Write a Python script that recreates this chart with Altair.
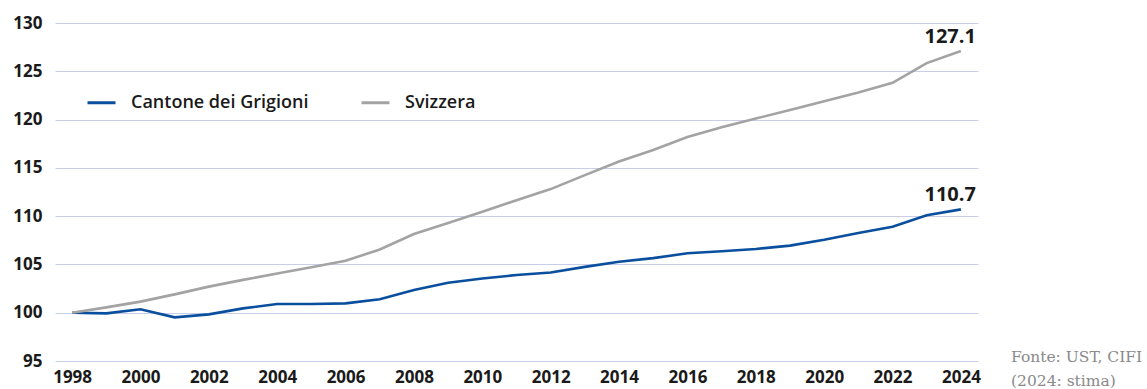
import altair as alt
import pandas as pd

years = list(range(1998, 2025))
grigioni = [100.0, 99.93, 100.35, 99.52, 99.83, 100.45, 100.9, 100.9, 100.97, 101.4,
            102.35, 103.1, 103.55, 103.9, 104.17, 104.75, 105.27, 105.65, 106.15, 106.37,
            106.6, 106.95, 107.55, 108.25, 108.9, 110.1, 110.7]
svizzera = [100.0, 100.55, 101.15, 101.9, 102.7, 103.4, 104.06, 104.7, 105.37, 106.55,
            108.15, 109.3, 110.45, 111.65, 112.8, 114.25, 115.65, 116.85, 118.2, 119.2,
            120.1, 121.0, 121.9, 122.8, 123.8, 125.85, 127.1]
series_names = ["Cantone dei Grigioni", "Svizzera"]
series_colors = ["#0a4f9e", "#a3a3a3"]
end_labels = ["110.7", "127.1"]
source_lines = ["Fonte: UST, CIFI", "(2024: stima)"]

rows = []
for y, g, s in zip(years, grigioni, svizzera):
    rows.append({"anno": y, "serie": series_names[0], "valore": g})
    rows.append({"anno": y, "serie": series_names[1], "valore": s})
df = pd.DataFrame(rows)

ends = pd.DataFrame({
    "anno": [years[-1], years[-1]],
    "valore": [grigioni[-1], svizzera[-1]],
    "label": end_labels,
})

FONT = "Open Sans"

x_enc = alt.X("anno:Q",
              scale=alt.Scale(domain=[1997.5, 2024.5], nice=False, zero=False),
              axis=alt.Axis(values=list(range(1998, 2025, 2)), format="d", title=None,
                            grid=False, domain=False, ticks=False,
                            labelFont=FONT, labelFontSize=17, labelFontWeight="bold",
                            labelColor="#1a1a1a", labelPadding=8, labelFlush=False))
y_enc = alt.Y("valore:Q",
              scale=alt.Scale(domain=[95, 130], nice=False, zero=False),
              axis=alt.Axis(values=list(range(95, 131, 5)), title=None,
                            grid=True, gridColor="#c8cdea", gridWidth=1,
                            domain=False, ticks=False,
                            labelFont=FONT, labelFontSize=17, labelFontWeight="bold",
                            labelColor="#1a1a1a", labelPadding=13))

lines = alt.Chart(df).mark_line(strokeWidth=2.6).encode(
    x=x_enc,
    y=y_enc,
    color=alt.Color("serie:N",
                    scale=alt.Scale(domain=series_names, range=series_colors),
                    legend=alt.Legend(orient="none", legendX=31, legendY=64,
                                      direction="horizontal", title=None,
                                      symbolType="stroke", symbolSize=784,
                                      symbolStrokeWidth=3,
                                      labelFont=FONT, labelFontSize=18,
                                      labelFontWeight=600, labelColor="#1a1a1a",
                                      labelOffset=14, columnPadding=46,
                                      labelLimit=300)),
)

labels = alt.Chart(ends).mark_text(
    align="right", baseline="bottom", dx=15, dy=-4,
    font=FONT, fontSize=20, fontWeight="bold", color="#1a1a1a",
).encode(x="anno:Q", y="valore:Q", text="label:N")

source = alt.Chart(pd.DataFrame({"t": [source_lines]})).mark_text(
    align="left", baseline="alphabetic", font="DejaVu Serif", fontSize=15.5,
    color="#8a8a8a", lineHeight=24,
).encode(x=alt.value(956), y=alt.value(339), text="t")

chart = alt.layer(lines, labels, source).properties(
    width=923, height=338,
    autosize=alt.AutoSizeParams(type="none"),
    padding={"left": 55, "top": 23, "right": 169, "bottom": 28},
).configure_view(stroke=None)

chart.save("out.html", embed_options={"renderer": "svg", "actions": False})
